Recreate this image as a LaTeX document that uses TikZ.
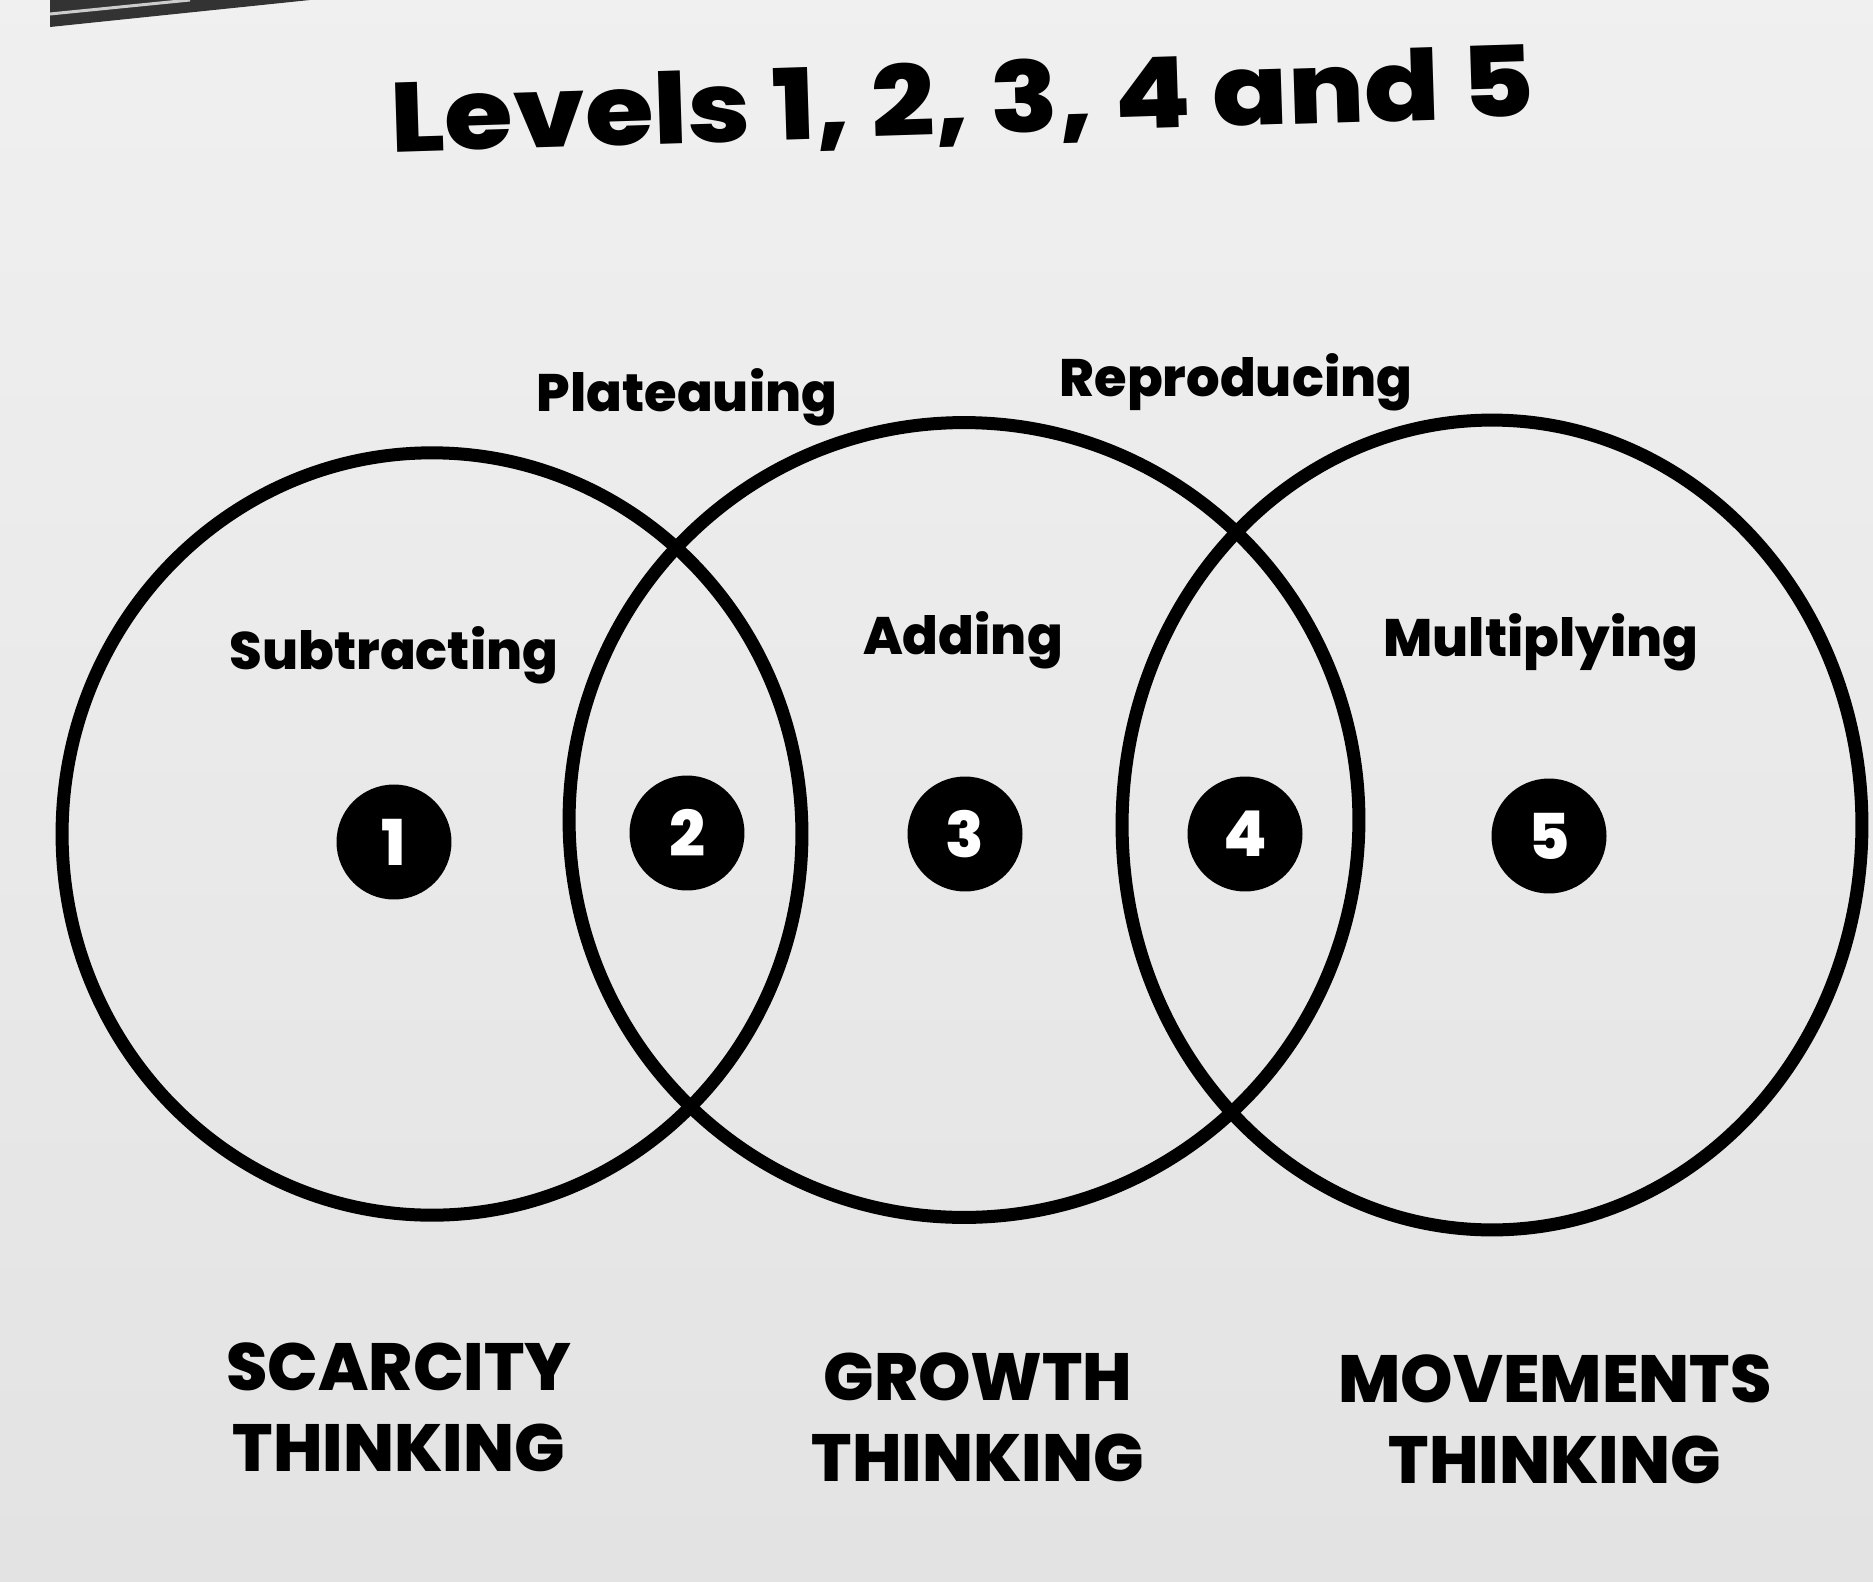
\documentclass[tikz,border=0pt]{standalone}
\usepackage{fontspec}
\usetikzlibrary{shapes.geometric}
\setmainfont{Poppins}
\IfFontExistsTF{Poppins ExtraBold}{\newfontfamily\hvyfont{Poppins ExtraBold}}{\newcommand\hvyfont{\bfseries}}
\begin{document}
\begin{tikzpicture}[x=0.02cm,y=-0.02cm,
  ring/.style={ellipse, draw=black, line width=0.26cm, inner sep=0pt},
  badge/.style={circle, fill=black, inner sep=0pt, minimum size=2.30cm, text=white, font=\fontsize{36}{40}\selectfont\hvyfont},
  lbl/.style={font=\fontsize{30}{34}\selectfont\hvyfont, text=black},
  big/.style={font=\fontsize{38}{46}\selectfont\hvyfont, align=center, text=black},
]
\shade[top color=gray!12, middle color=gray!26, bottom color=gray!22] (0,0) rectangle (1873,1582);
\useasboundingbox (0,0) rectangle (1873,1582);
\fill[black!80] (50,0) -- (310,0) -- (50,27) -- cycle;
\draw[gray!40, line width=0.06cm] (50,14) -- (190,0);

\node[rotate=1.8, xscale=1.13, font=\fontsize{56}{60}\selectfont\hvyfont] (title) at (962,104) {Levels 1, 2, 3, 4 and 5};

\node[ring, minimum width=14.8cm, minimum height=15.25cm] (c1) at (432,834) {};
\node[ring, minimum width=15.8cm, minimum height=15.9cm] (c2) at (964,820) {};
\node[ring, minimum width=14.8cm, minimum height=16.2cm] (c3) at (1492,825) {};

\node[badge] (n1) at (394,842) {1};
\node[badge] (n2) at (687,833) {2};
\node[badge] (n3) at (965,834) {3};
\node[badge] (n4) at (1245,834) {4};
\node[badge] (n5) at (1549,836) {5};

\node[lbl] (plat) at (687,397) {Plateauing};
\node[lbl] (repr) at (1236,382) {Reproducing};
\node[lbl] (subt) at (394,655) {Subtracting};
\node[lbl] (addi) at (963,640) {Adding};
\node[lbl] (mult) at (1541,642) {Multiplying};

\node[big] (scar) at (399,1407) {SCARCITY\\THINKING};
\node[big] (grow) at (978,1417) {GROWTH\\THINKING};
\node[big] (move) at (1555,1419) {MOVEMENTS\\THINKING};
\end{tikzpicture}
\end{document}
